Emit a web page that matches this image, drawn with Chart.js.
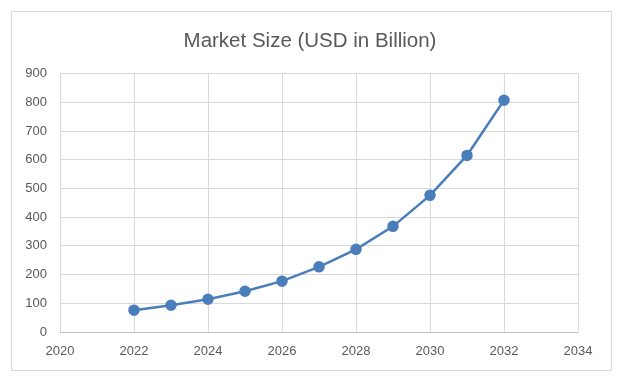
<!DOCTYPE html>
<html>
<head>
<meta charset="utf-8">
<script src="https://cdn.jsdelivr.net/npm/chart.js@4/dist/chart.umd.min.js"></script>
<style>
  body { margin: 0; background: #fff; }
  #wrap { position: relative; width: 620px; height: 378px; }
  #frame { position: absolute; left: 11px; top: 11px; width: 599px; height: 358px; border: 1px solid #d9d9d9; }
  canvas { position: absolute; left: 0; top: 0; }
</style>
</head>
<body>
<div id="wrap">
  <div id="frame"></div>
  <canvas id="marketChart" width="620" height="378"></canvas>
</div>
<script>
// Market size values
const years = [2022, 2023, 2024, 2025, 2026, 2027, 2028, 2029, 2030, 2031, 2032];
const marketSize = [76, 93, 114, 142, 177, 227, 288, 368, 476, 615, 807];
const xTicks = [2020, 2022, 2024, 2026, 2028, 2030, 2032, 2034];
const yTicks = [0, 100, 200, 300, 400, 500, 600, 700, 800, 900];

const points = years.map((y, i) => ({ x: y, y: marketSize[i] }));
const labelFont = { family: 'Liberation Sans', size: 13 };

const ctx = document.getElementById('marketChart').getContext('2d');
const chart = new Chart(ctx, {
    type: 'scatter',
    data: {
        datasets: [{
            label: 'Market Size',
            data: points,
            showLine: true,
            borderColor: '#4a7ebb',
            backgroundColor: '#4a7ebb',
            borderWidth: 2.5,
            pointRadius: 4.5,
            pointHoverRadius: 4.5
        }]
    },
    options: {
        responsive: false,
        animation: false,
        layout: { padding: 0 },
        plugins: {
            legend: { display: false },
            tooltip: { enabled: false },
            title: {
                display: true,
                text: 'Market Size (USD in Billion)',
                color: '#595959',
                font: { family: 'Liberation Sans', size: 20.5, weight: 'normal' },
                padding: { top: 29, bottom: 20 }
            }
        },
        scales: {
            x: {
                type: 'linear',
                min: xTicks[0],
                max: xTicks[xTicks.length - 1],
                afterBuildTicks: (scale) => { scale.ticks = xTicks.map(v => ({ value: v })); },
                afterFit: (scale) => { scale.height = 46; },
                ticks: {
                    color: '#595959',
                    font: labelFont,
                    padding: 12,
                    maxRotation: 0,
                    callback: (v) => String(v)
                },
                grid: { color: '#d9d9d9', drawTicks: false },
                border: { display: false }
            },
            y: {
                min: yTicks[0],
                max: yTicks[yTicks.length - 1],
                afterBuildTicks: (scale) => { scale.ticks = yTicks.map(v => ({ value: v })); },
                afterFit: (scale) => { scale.width = 60; },
                ticks: {
                    color: '#595959',
                    font: labelFont,
                    padding: 13
                },
                grid: {
                    drawTicks: false,
                    color: (c) => c.tick && c.tick.value === 0 ? '#bfbfbf' : '#d9d9d9'
                },
                border: { display: false }
            },
            // empty spacer on the right so the plot and title line up with the frame
            spacer: {
                position: 'right',
                min: 0,
                max: 1,
                afterFit: (scale) => { scale.width = 42; },
                ticks: { display: false },
                grid: { display: false },
                border: { display: false }
            }
        }
    }
});
</script>
</body>
</html>
